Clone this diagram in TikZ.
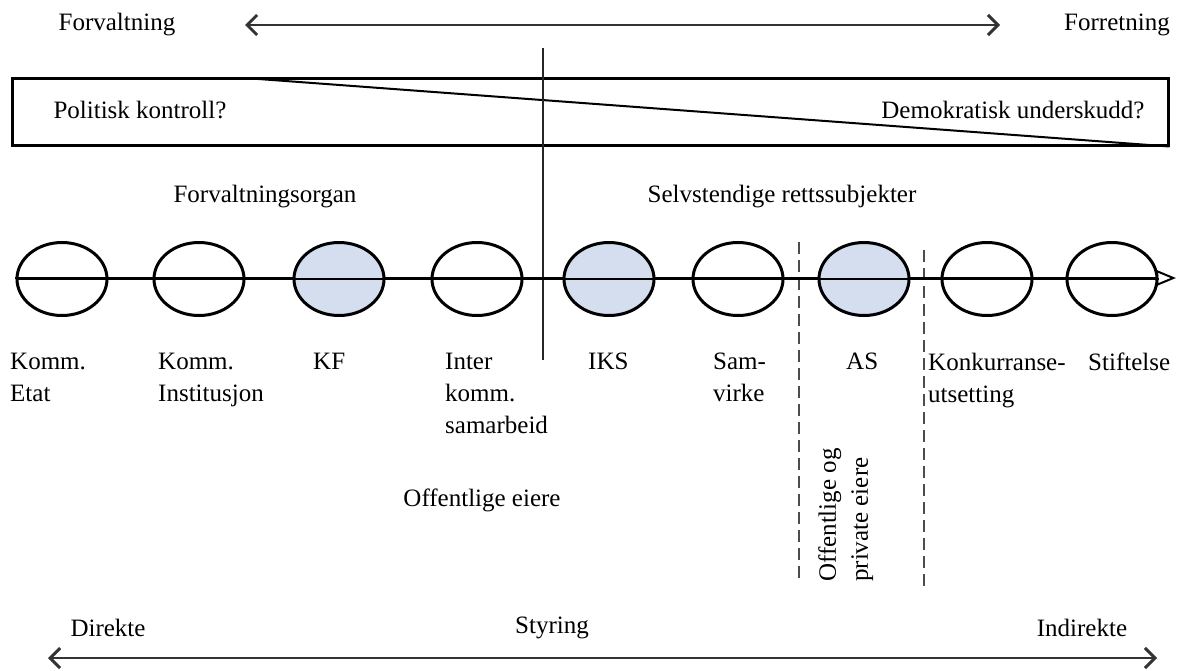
\documentclass[tikz,border=0pt]{standalone}
\usepackage{fontspec}
\setmainfont{Liberation Serif}
\usetikzlibrary{arrows.meta,shapes.geometric}
\definecolor{shade}{RGB}{212,222,238}
\begin{document}
\begin{tikzpicture}[x=1pt,y=-1pt,
  lbl/.style={font=\fontsize{25}{32}\selectfont, inner sep=0pt, align=left},
  org/.style={ellipse, draw, line width=3pt, minimum width=90pt, minimum height=73pt, inner sep=0pt},
  orgf/.style={org, fill=shade},
  barb/.style={line width=2pt, draw=black!80, {Straight Barb[length=10pt,width=20pt,line width=3pt]}-{Straight Barb[length=10pt,width=20pt,line width=3pt]}},
  dashline/.style={line width=2pt, draw=black!70, dash pattern=on 12pt off 6pt}
]
\useasboundingbox (0,0) rectangle (1177,670);
% top arrow
\coordinate (ta) at (245,25);
\coordinate (tb) at (1000,25);
\draw[barb] (ta) -- (tb);
\node[lbl] (forv) at (117,25) {Forvaltning};
\node[lbl] (forr) at (1117,25) {Forretning};
% box
\node[draw, line width=3pt, minimum width=1156pt, minimum height=67pt, inner sep=0pt] (box) at (590,111.5) {};
\coordinate (dstart) at (245,78);
\draw[line width=2pt] (dstart) -- (box.south east);
\node[lbl] (pol) at (140,110) {Politisk kontroll?};
\node[lbl] (dem) at (1013,110) {Demokratisk underskudd?};
% vertical line
\coordinate (v1) at (543,48);
\coordinate (v2) at (543,360);
\draw[line width=1.5pt, draw=black!85] (v1) -- (v2);
\node[lbl] (fo) at (265,197) {Forvaltningsorgan};
\node[lbl] (sr) at (782,197) {Selvstendige rettssubjekter};
% dashed
\coordinate (d1a) at (799,242);
\coordinate (d1b) at (799,582);
\coordinate (d2a) at (924,250);
\coordinate (d2b) at (924,590);
\draw[dashline] (d1a) -- (d1b);
\draw[dashline] (d2a) -- (d2b);
% axis
\coordinate (ax1) at (15,278);
\coordinate (ax2) at (1176,278);
\draw[line width=2pt, -{Triangle[open,length=20pt,width=16pt,line width=2pt]}] (ax1) -- (ax2);
% ellipses
\node[org] (e1) at (62,279) {};
\node[org] (e2) at (199,279) {};
\node[orgf] (e3) at (339,279) {};
\node[org] (e4) at (477,279) {};
\node[orgf] (e5) at (609,279) {};
\node[org] (e6) at (738,279) {};
\node[orgf] (e7) at (864,279) {};
\node[org] (e8) at (987,279) {};
\node[org] (e9) at (1112,279) {};
\draw[line width=2pt] (e1.west) -- (e9.east);
% labels
\node[lbl, anchor=north west] (l1) at (10,353) {Komm.\\Etat};
\node[lbl, anchor=north west] (l2) at (158,353) {Komm.\\Institusjon};
\node[lbl, anchor=north west] (l3) at (313,353) {KF};
\node[lbl, anchor=north west] (l4) at (445,353) {Inter\\komm.\\samarbeid};
\node[lbl, anchor=north west] (l5) at (588,353) {IKS};
\node[lbl, anchor=north west] (l6) at (713,353) {Sam-\\virke};
\node[lbl, anchor=north west] (l7) at (846,353) {AS};
\node[lbl, anchor=north west] (l8) at (928,353) {Konkurranse-\\utsetting};
\node[lbl, anchor=north west] (l9) at (1088,353) {Stiftelse};
\node[lbl] (oe) at (482,500) {Offentlige eiere};
\node[lbl, rotate=90, anchor=north west] (op) at (818,582) {Offentlige og\\private eiere};
% bottom
\node[lbl] (dir) at (108,628) {Direkte};
\node[lbl] (sty) at (552,628) {Styring};
\node[lbl] (ind) at (1082,628) {Indirekte};
\coordinate (ba) at (48,658);
\coordinate (bb) at (1157,658);
\draw[barb] (ba) -- (bb);
\end{tikzpicture}
\end{document}
